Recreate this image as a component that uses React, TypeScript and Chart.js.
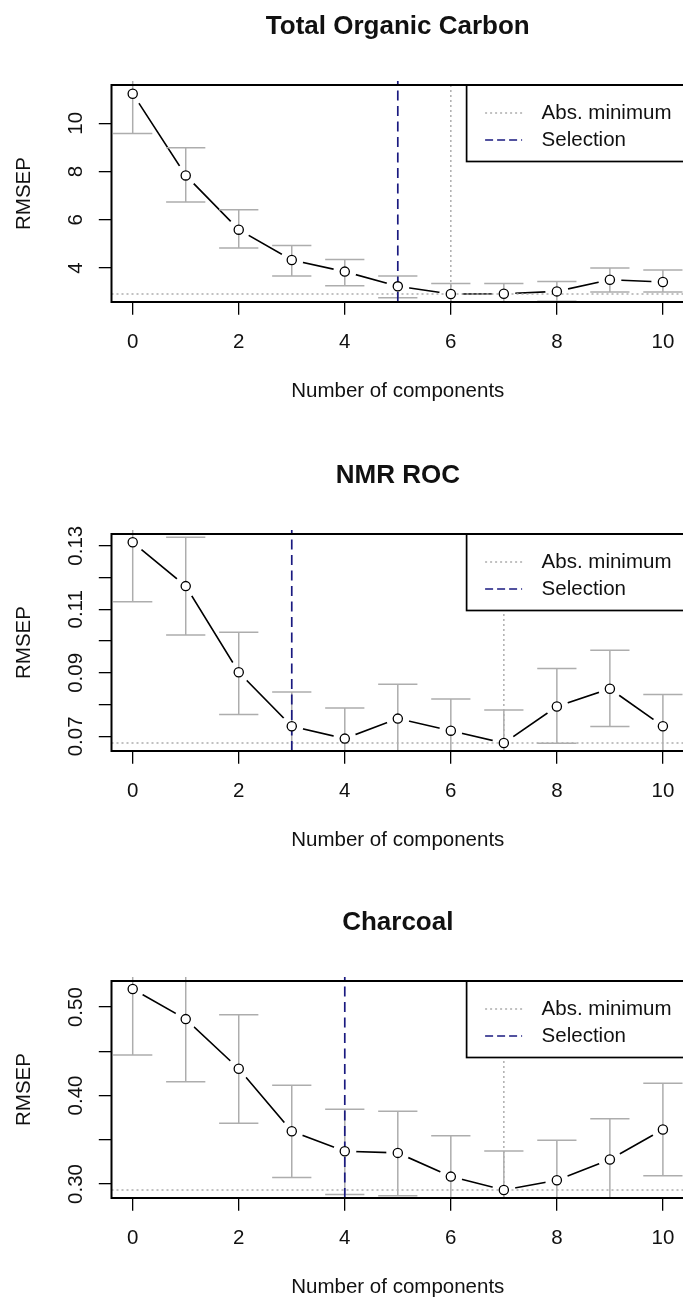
import React, { useEffect, useRef } from "react";
import { Chart, registerables } from "chart.js";

Chart.register(...registerables);

// ---------------- data ----------------
const components = [0, 1, 2, 3, 4, 5, 6, 7, 8, 9, 10];
const xAxisTitle = "Number of components";
const yAxisTitle = "RMSEP";
const legendLabels = ["Abs. minimum", "Selection"];

const tocTitle = "Total Organic Carbon";
const tocRmsep = [11.23, 7.84, 5.59, 4.33, 3.85, 3.24, 2.92, 2.93, 3.03, 3.51, 3.42];
const tocLower = [9.58, 6.74, 4.83, 3.67, 3.26, 2.77, 2.48, 2.5, 2.62, 3.0, 3.0];
const tocUpper = [12.88, 8.99, 6.42, 4.93, 4.35, 3.67, 3.36, 3.36, 3.44, 4.0, 3.92];
const tocSelection = 5;
const tocYRange = [2.59, 11.59];
const tocYStep = 2;
const tocYTickLabels = ["4", "6", "8", "10"];

const nmrTitle = "NMR ROC";
const nmrRmsep = [0.1311, 0.1173, 0.0902, 0.0732, 0.0693, 0.0756, 0.0718, 0.0679, 0.0794, 0.085, 0.0732];
const nmrLower = [0.1124, 0.1019, 0.0769, 0.0622, 0.0597, 0.0648, 0.0618, 0.0575, 0.0678, 0.0731, 0.0632];
const nmrUpper = [0.1498, 0.1327, 0.1028, 0.084, 0.0789, 0.0864, 0.0818, 0.0783, 0.0914, 0.0971, 0.0832];
const nmrSelection = 3;
const nmrYRange = [0.0654, 0.1337];
const nmrYStep = 0.01;
const nmrYTickLabels = ["0.07", "0.09", "0.11", "0.13"];

const charTitle = "Charcoal";
const charRmsep = [0.5204, 0.4864, 0.4303, 0.3596, 0.337, 0.3351, 0.3083, 0.2932, 0.3042, 0.3276, 0.3615];
const charLower = [0.4458, 0.4156, 0.3685, 0.3072, 0.2881, 0.2866, 0.262, 0.254, 0.259, 0.2816, 0.3092];
const charUpper = [0.595, 0.5572, 0.4913, 0.4117, 0.3844, 0.3821, 0.3546, 0.3373, 0.3494, 0.3736, 0.4138];
const charSelection = 4;
const charYRange = [0.2841, 0.5295];
const charYStep = 0.05;
const charYTickLabels = ["0.30", "0.40", "0.50"];

// ---------------- styling ----------------
const FONT = "'Liberation Sans', Arial, Helvetica, sans-serif";
const TEXT = "#111111";
const FS = 20.5;
const CANVAS_W = 690;
const CANVAS_H = 449;
const PANEL_TOPS = [0, 449, 896];
const AREA_LEFT = 111.5;
const AREA_RIGHT = 685;
const AREA_BOTTOM = 302;
const TICK_LEN = 12.7;
const CAP_HALF = 0.37;
const GAP_RADIUS = 11.5;
const GREY = "#adadad";
const NAVY = "#1a1a80";

Chart.defaults.font.family = FONT;
Chart.defaults.color = TEXT;

type Panel = {
  title: string;
  values: number[];
  lower: number[];
  upper: number[];
  selection: number;
  yRange: number[];
  yStep: number;
  yTickLabels: string[];
};

const panels: Panel[] = [
  { title: tocTitle, values: tocRmsep, lower: tocLower, upper: tocUpper, selection: tocSelection, yRange: tocYRange, yStep: tocYStep, yTickLabels: tocYTickLabels },
  { title: nmrTitle, values: nmrRmsep, lower: nmrLower, upper: nmrUpper, selection: nmrSelection, yRange: nmrYRange, yStep: nmrYStep, yTickLabels: nmrYTickLabels },
  { title: charTitle, values: charRmsep, lower: charLower, upper: charUpper, selection: charSelection, yRange: charYRange, yStep: charYStep, yTickLabels: charYTickLabels },
];

function measure(text: string, font: string) {
  const c = document.createElement("canvas").getContext("2d")!;
  c.font = font;
  return c.measureText(text).width;
}

function makePlugin(panel: Panel) {
  const minVal = Math.min(...panel.values);
  const absMinIdx = panel.values.indexOf(minVal);
  return {
    id: "rDecor",
    // runs after the line dataset (index 1) and before the open circles (index 0)
    afterDatasetDraw(chart: any, args: any) {
      if (args.index !== 1) return;
      const { ctx, chartArea: ca, scales } = chart;
      const x = scales.x;
      const y = scales.y;
      ctx.save();
      // type "b" gaps: white discs around every point of the line
      ctx.beginPath();
      ctx.rect(ca.left, ca.top, ca.right - ca.left, ca.bottom - ca.top);
      ctx.clip();
      ctx.fillStyle = "#ffffff";
      args.meta.data.forEach((el: any) => {
        ctx.beginPath();
        ctx.arc(el.x, el.y, GAP_RADIUS, 0, Math.PI * 2);
        ctx.fill();
      });
      ctx.restore();

      ctx.save();
      ctx.beginPath();
      ctx.rect(ca.left, ca.top - 4, ca.right - ca.left, ca.bottom - ca.top + 4);
      ctx.clip();
      // error bars
      ctx.strokeStyle = GREY;
      ctx.lineWidth = 1.5;
      ctx.setLineDash([]);
      panel.values.forEach((_v, i) => {
        const c = components[i];
        const px = x.getPixelForValue(c);
        const pl = x.getPixelForValue(c - CAP_HALF);
        const pr = x.getPixelForValue(c + CAP_HALF);
        const lo = y.getPixelForValue(panel.lower[i]);
        const hi = y.getPixelForValue(panel.upper[i]);
        ctx.beginPath();
        ctx.moveTo(px, lo);
        ctx.lineTo(px, hi);
        ctx.moveTo(pl, lo);
        ctx.lineTo(pr, lo);
        ctx.moveTo(pl, hi);
        ctx.lineTo(pr, hi);
        ctx.stroke();
      });
      // absolute minimum (dotted grey)
      ctx.setLineDash([2, 3]);
      ctx.strokeStyle = GREY;
      ctx.lineWidth = 1.5;
      const my = y.getPixelForValue(minVal);
      const mx = x.getPixelForValue(components[absMinIdx]);
      ctx.beginPath();
      ctx.moveTo(ca.left, my);
      ctx.lineTo(ca.right, my);
      ctx.moveTo(mx, ca.bottom);
      ctx.lineTo(mx, ca.top);
      ctx.stroke();
      // selection (dashed navy)
      ctx.setLineDash([10, 5.5]);
      ctx.strokeStyle = NAVY;
      ctx.lineWidth = 1.7;
      const sx = x.getPixelForValue(components[panel.selection]);
      ctx.beginPath();
      ctx.moveTo(sx, ca.bottom);
      ctx.lineTo(sx, ca.top - 4);
      ctx.stroke();
      ctx.restore();
    },
    afterDraw(chart: any) {
      const { ctx, chartArea: ca } = chart;
      ctx.save();
      // legend (top right)
      const lx = ca.right - 217.5;
      const ly = ca.top;
      const lh = 76.5;
      ctx.fillStyle = "#fff";
      ctx.fillRect(lx, ly, ca.right - lx + 10, lh);
      ctx.strokeStyle = "#000";
      ctx.lineWidth = 1.7;
      ctx.setLineDash([]);
      ctx.strokeRect(lx, ly, ca.right - lx, lh);
      const styles = [
        { color: GREY, dash: [2, 3] },
        { color: NAVY, dash: [8, 4] },
      ];
      legendLabels.forEach((label, i) => {
        const ry = ly + 28 + i * 27;
        ctx.setLineDash(styles[i].dash);
        ctx.strokeStyle = styles[i].color;
        ctx.lineWidth = 1.6;
        ctx.beginPath();
        ctx.moveTo(lx + 18.5, ry);
        ctx.lineTo(lx + 55.5, ry);
        ctx.stroke();
        ctx.setLineDash([]);
        ctx.fillStyle = TEXT;
        ctx.font = `${FS}px ${FONT}`;
        ctx.textAlign = "left";
        ctx.textBaseline = "middle";
        ctx.fillText(label, lx + 75, ry);
      });
      // plot box
      ctx.setLineDash([]);
      ctx.strokeStyle = "#000";
      ctx.lineWidth = 2;
      ctx.strokeRect(ca.left, ca.top, ca.right - ca.left, ca.bottom - ca.top);
      ctx.restore();
    },
  };
}

function RPanel({ panel, top }: { panel: Panel; top: number }) {
  const ref = useRef<HTMLCanvasElement>(null);
  useEffect(() => {
    const canvas = ref.current;
    if (!canvas) return;
    const pts = components.map((c, i) => ({ x: c, y: panel.values[i] }));
    const widest = Math.max(...panel.yTickLabels.map((t) => measure(t, `${FS}px ${FONT}`)));
    const yTickPad = AREA_LEFT - TICK_LEN - 76 - widest / 2;
    const chart = new Chart(canvas, {
      type: "line",
      data: {
        datasets: [
          {
            label: "points",
            data: pts,
            showLine: false,
            pointRadius: 4.6,
            pointBackgroundColor: "#fff",
            pointBorderColor: "#000",
            pointBorderWidth: 1.3,
            order: 1,
          },
          {
            label: "RMSEP",
            data: pts,
            borderColor: "#000",
            borderWidth: 1.6,
            tension: 0,
            pointRadius: 0,
            order: 2,
          },
        ],
      },
      options: {
        animation: false,
        responsive: false,
        devicePixelRatio: 1,
        events: [],
        layout: { padding: { left: 0, right: CANVAS_W - AREA_RIGHT, top: 0, bottom: 0 } },
        plugins: {
          legend: { display: false },
          tooltip: { enabled: false },
          title: {
            display: true,
            text: panel.title,
            fullSize: false,
            color: TEXT,
            font: { size: 26, weight: "bold" },
            padding: { top: 11.4, bottom: 42.4 },
          },
        },
        scales: {
          x: {
            type: "linear",
            position: "bottom",
            min: -0.4,
            max: 10.4,
            ticks: {
              stepSize: 2,
              includeBounds: false,
              autoSkip: false,
              maxRotation: 0,
              padding: 15.3,
              color: TEXT,
              font: { size: FS },
            },
            grid: {
              display: true,
              drawOnChartArea: false,
              drawTicks: true,
              tickLength: TICK_LEN,
              color: "#000",
              lineWidth: 1.3,
            },
            border: { display: false },
            title: {
              display: true,
              text: xAxisTitle,
              color: TEXT,
              font: { size: FS },
              padding: { top: 0, bottom: 45 },
            },
            afterFit: (s: any) => {
              s.height = CANVAS_H - AREA_BOTTOM;
            },
          },
          y: {
            type: "linear",
            position: "left",
            min: panel.yRange[0],
            max: panel.yRange[1],
            ticks: {
              stepSize: panel.yStep,
              includeBounds: false,
              autoSkip: false,
              minRotation: 90,
              maxRotation: 90,
              crossAlign: "center",
              padding: yTickPad,
              color: TEXT,
              font: { size: FS },
              callback: (value: any) => {
                const v = Number(value);
                const hit = panel.yTickLabels.find((t) => Math.abs(parseFloat(t) - v) < panel.yStep / 100);
                return hit ?? "";
              },
            },
            grid: {
              display: true,
              drawOnChartArea: false,
              drawTicks: true,
              tickLength: TICK_LEN,
              color: "#000",
              lineWidth: 1.3,
            },
            border: { display: false },
            title: {
              display: true,
              text: yAxisTitle,
              color: TEXT,
              font: { size: FS },
              padding: { top: 12, bottom: 0 },
            },
            afterFit: (s: any) => {
              s.width = AREA_LEFT;
            },
          },
        },
      },
      plugins: [makePlugin(panel)],
    } as any);
    return () => chart.destroy();
  }, [panel]);
  return (
    <div style={{ position: "absolute", left: 0, top, width: CANVAS_W, height: CANVAS_H }}>
      <canvas ref={ref} width={CANVAS_W} height={CANVAS_H} />
    </div>
  );
}

export default function App() {
  return (
    <div
      style={{
        position: "absolute",
        left: 0,
        top: 0,
        width: 683,
        height: 1297,
        overflow: "hidden",
        background: "#fff",
      }}
    >
      {panels.map((p, i) => (
        <RPanel key={p.title} panel={p} top={PANEL_TOPS[i]} />
      ))}
    </div>
  );
}
